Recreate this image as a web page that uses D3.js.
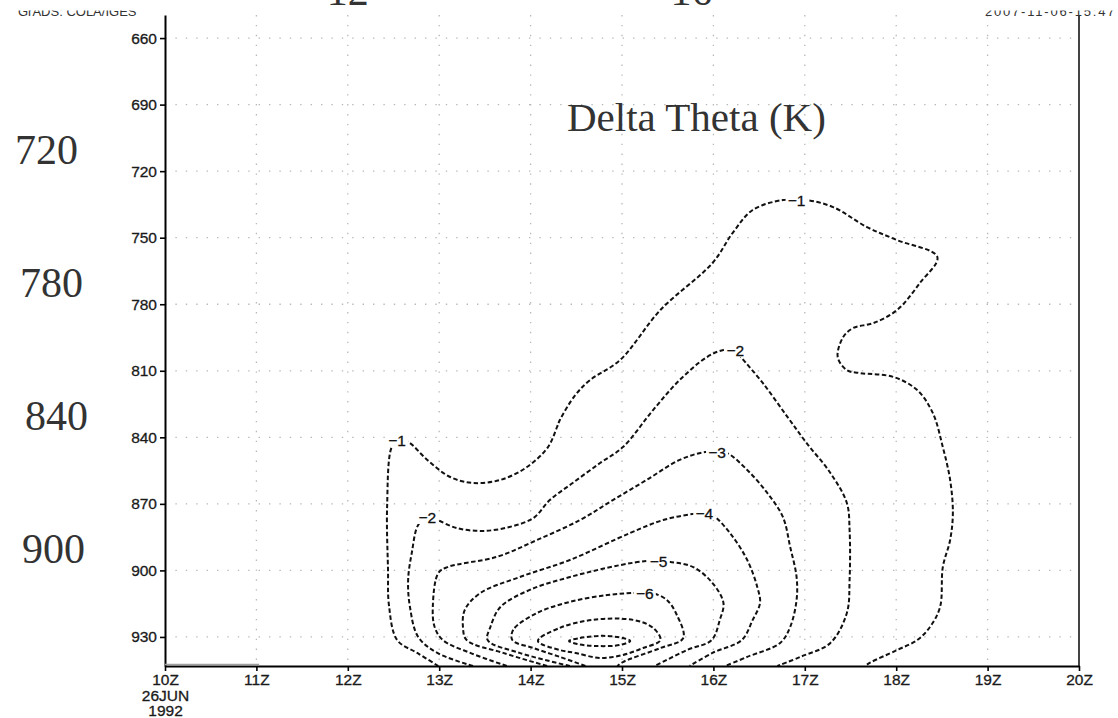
<!DOCTYPE html>
<html lang="en">
<head>
    <meta charset="UTF-8">
    <title>Delta Theta (K)</title>
    <style>
        body { margin: 0; background: #fff; }
    </style>
</head>
<body>

    <div id="chart"></div>

    <script src="https://d3js.org/d3.v7.min.js"></script>
    <script>

    // ---- data: time in hours (Z) of 26 Jun 1992, pressure in hPa ----
    const hours = [10, 11, 12, 13, 14, 15, 16, 17, 18, 19, 20];
    const pTicks = [660, 690, 720, 750, 780, 810, 840, 870, 900, 930];
    const overlayHours = [12, 16];
    const overlayPress = [720, 780, 840, 900];

    // contour lines, [hour, hPa]
    const cMinus1 = [[12.99,943.1],[12.76,937.2],[12.54,931.4],[12.45,915.6],[12.44,899.9],[12.43,871.4],[12.48,844.4],
        [12.55,841.2],[12.66,842.1],[12.87,850.2],[13.12,857.9],[13.37,860.6],[13.67,859.2],[13.96,853.4],[14.19,844.4],
        [14.29,835.3],[14.32,832.2],[14.49,820.9],[14.65,814.2],[14.98,805.1],[15.42,782.6],[15.99,761.4],[16.21,747.9],
        [16.43,737.5],[16.76,733.0],[16.91,733.0],[17.02,733.0],[17.31,736.2],[17.68,745.2],[18.01,751.1],[18.45,758.7],
        [18.26,770.4],[18.01,782.6],[17.75,788.5],[17.53,790.7],[17.42,794.8],[17.36,803.8],[17.46,809.7],[17.60,811.0],
        [17.97,812.8],[18.23,818.7],[18.40,829.0],[18.51,844.4],[18.59,859.2],[18.62,874.1],[18.59,886.3],[18.51,898.5],
        [18.48,916.5],[18.37,925.5],[18.23,931.4],[18.01,935.9],[17.71,941.7],[17.66,943.1]];
    const cMinus2 = [[13.37,943.1],[12.98,937.2],[12.77,930.0],[12.68,916.5],[12.66,904.3],[12.70,892.1],[12.77,879.5],
        [12.87,875.9],[12.98,877.3],[13.19,880.9],[13.48,882.2],[13.77,880.4],[14.03,876.4],[14.21,868.3],[14.46,860.6],
        [14.76,851.6],[15.01,844.4],[15.34,827.7],[15.63,814.2],[15.93,803.8],[16.11,800.6],[16.24,800.6],[16.31,804.2],
        [16.54,815.5],[16.81,830.8],[17.02,842.6],[17.28,856.1],[17.46,869.6],[17.49,881.8],[17.49,904.3],[17.46,919.2],
        [17.28,932.7],[16.95,939.0],[16.70,943.1]];
    const cMinus3 = [[13.74,943.1],[13.34,937.2],[13.04,931.4],[12.95,925.5],[12.93,916.5],[12.99,901.2],[13.09,898.5],
        [13.63,893.9],[14.07,886.3],[14.54,877.3],[14.90,868.3],[15.27,859.2],[15.63,850.2],[15.91,846.6],[16.04,846.6],
        [16.15,847.1],[16.37,854.7],[16.59,865.1],[16.76,875.9],[16.84,889.4],[16.91,903.0],[16.91,913.3],[16.84,925.5],
        [16.73,932.7],[16.37,939.0],[16.13,943.1]];
    const cMinus4 = [[14.18,943.1],[13.70,937.2],[13.30,931.4],[13.26,925.5],[13.28,917.8],[13.45,910.2],[13.88,903.0],
        [14.43,895.3],[15.09,883.1],[15.45,877.3],[15.77,874.6],[15.90,874.1],[15.99,875.0],[16.18,883.1],[16.37,895.3],
        [16.48,907.5],[16.51,914.7],[16.43,922.3],[16.31,931.4],[15.99,937.2],[15.74,943.1]];
    const cMinus5 = [[14.43,943.1],[13.88,937.2],[13.53,931.4],[13.56,925.5],[13.67,916.5],[13.99,908.8],[14.43,903.0],
        [14.98,897.6],[15.27,895.8],[15.40,895.8],[15.53,896.2],[15.78,898.5],[15.99,905.7],[16.11,914.7],[16.07,922.3],
        [15.98,931.4],[15.71,935.9],[15.36,943.1]];
    const cMinus6 = [[14.60,943.1],[14.32,939.0],[14.03,935.0],[13.80,931.4],[13.81,926.8],[14.07,919.2],[14.43,914.2],
        [14.84,911.1],[15.12,910.2],[15.25,910.2],[15.33,910.2],[15.49,913.3],[15.60,920.1],[15.67,930.5],[15.42,935.0],
        [15.01,941.3],[14.95,943.1]];
    const cMinus7 = [[14.08,931.8],[14.32,925.9],[14.68,922.3],[15.12,922.3],[15.34,925.9],[15.42,931.4],[15.23,935.0],
        [15.01,938.1],[14.76,939.5],[14.49,937.2],[14.32,935.9]];
    const cMinus8 = [[14.42,931.8],[14.54,930.5],[14.79,929.5],[15.01,930.5],[15.09,931.8],[14.98,933.6],[14.73,934.1],
        [14.51,933.2]];

    const openContours = [cMinus1, cMinus2, cMinus3, cMinus4, cMinus5, cMinus6];
    const closedContours = [cMinus7, cMinus8];

    // contour labels: [level, hour, hPa]
    const contourLabels = [[-1,12.54,841.2],[-1,16.91,733.0],[-2,12.87,875.9],[-2,16.24,800.6],
        [-3,16.04,846.6],[-4,15.90,874.1],[-5,15.40,895.8],[-6,15.25,910.2]];

    // ---- page set up ----
    const W = 1118, H = 718;
    const margin = {top: 15, right: 39, bottom: 52, left: 165},
        width = W - margin.left - margin.right,
        height = H - margin.top - margin.bottom;

    const root = d3.select("#chart")
        .append("svg").attr("width", W).attr("height", H);

    const svg = root.append("g")
        .attr("transform", `translate(${margin.left}, ${margin.top})`);

    const x = d3.scaleLinear().domain([10, 20]).range([0, width]);
    const y = d3.scaleLinear().domain([649.6, 943.1]).range([0, height]);

    const axisFont = "'Liberation Sans', Arial, sans-serif";
    const serif = "'Liberation Serif', 'Times New Roman', serif";

    // dotted grid
    svg.append("g")
        .selectAll("line")
        .data(pTicks)
        .join("line")
        .attr("x1", 0).attr("x2", width)
        .attr("y1", d => y(d)).attr("y2", d => y(d))
        .attr("stroke", "#b8b8b8").attr("stroke-width", 1.3)
        .attr("stroke-dasharray", "1.4,9");

    svg.append("g")
        .selectAll("line")
        .data(hours.slice(1, -1))
        .join("line")
        .attr("x1", d => x(d)).attr("x2", d => x(d))
        .attr("y1", 0).attr("y2", height)
        .attr("stroke", "#b8b8b8").attr("stroke-width", 1.3)
        .attr("stroke-dasharray", "1.4,8.5");

    // contours
    const line = d3.line()
        .x(d => x(d[0])).y(d => y(d[1]))
        .curve(d3.curveCatmullRom.alpha(0.5));
    const loop = d3.line()
        .x(d => x(d[0])).y(d => y(d[1]))
        .curve(d3.curveCatmullRomClosed.alpha(0.5));

    const cg = svg.append("g")
        .attr("fill", "none")
        .attr("stroke", "#111")
        .attr("stroke-width", 2)
        .attr("stroke-dasharray", "4.5,2.5");

    cg.selectAll(".open").data(openContours).join("path")
        .attr("class", "open").attr("d", line);
    cg.selectAll(".closed").data(closedContours).join("path")
        .attr("class", "closed").attr("d", loop);

    // contour labels with a white box behind them
    const lg = svg.append("g").selectAll("g")
        .data(contourLabels)
        .join("g")
        .attr("transform", d => `translate(${x(d[1])}, ${y(d[2])})`);

    lg.append("rect")
        .attr("x", -11).attr("y", -7).attr("width", 22).attr("height", 14)
        .attr("fill", "#fff");

    lg.append("text")
        .attr("text-anchor", "middle")
        .attr("dy", "0.36em")
        .attr("font-family", axisFont)
        .attr("font-size", 15.5)
        .attr("fill", "#111")
        .attr("stroke", "#111").attr("stroke-width", 0.3)
        .text(d => "\u2212" + Math.abs(d[0]));

    // y axis
    const yAxis = svg.append("g")
        .call(d3.axisLeft(y).tickValues(pTicks).tickSize(5).tickSizeOuter(0).tickPadding(3))
        .attr("font-family", axisFont)
        .attr("font-size", 15.5);
    yAxis.select(".domain").attr("stroke-width", 2);
    yAxis.selectAll(".tick line").attr("stroke-width", 1.6);
    yAxis.selectAll("text").attr("fill", "#1a1a1a")
        .attr("stroke", "#1a1a1a").attr("stroke-width", 0.3);

    // right frame
    svg.append("line")
        .attr("x1", width).attr("x2", width)
        .attr("y1", 0).attr("y2", height)
        .attr("stroke", "#444").attr("stroke-width", 2);

    // x axis
    const xAxis = svg.append("g")
        .attr("transform", `translate(0, ${height})`)
        .call(d3.axisBottom(x).tickValues(hours).tickSize(5).tickSizeOuter(0).tickPadding(3)
            .tickFormat(d => d + "Z"))
        .attr("font-family", axisFont)
        .attr("font-size", 15.5);
    xAxis.select(".domain").attr("stroke-width", 2);
    xAxis.selectAll(".tick line").attr("stroke-width", 1.6);
    xAxis.selectAll("text").attr("fill", "#1a1a1a")
        .attr("stroke", "#1a1a1a").attr("stroke-width", 0.3);

    // date under the first tick, stacked in three lines
    const first = xAxis.select(".tick text");
    const firstLabel = first.text();
    first.text(null).attr("dy", null);
    [firstLabel, "26JUN", "1992"].forEach((s, i) => {
        first.append("tspan")
            .attr("x", 0)
            .attr("dy", i === 0 ? "0.71em" : "1em")
            .text(s);
    });

    // light band on the first hour of the bottom edge
    svg.append("line")
        .attr("x1", x(10)).attr("x2", x(11.03))
        .attr("y1", height - 1.5).attr("y2", height - 1.5)
        .attr("stroke", "#a0a0a0").attr("stroke-width", 1.5);

    // header strings (top half is cut off in the picture)
    root.append("text")
        .attr("x", 18).attr("y", 16)
        .attr("font-family", axisFont).attr("font-size", 13).attr("fill", "#333")
        .text("GrADS: COLA/IGES");
    root.append("text")
        .attr("x", 985).attr("y", 16)
        .attr("font-family", axisFont).attr("font-size", 13).attr("fill", "#333")
        .attr("letter-spacing", 1.8)
        .text("2007-11-06-15:47");
    root.append("rect")
        .attr("x", 0).attr("y", 0).attr("width", W).attr("height", 10.5)
        .attr("fill", "#fff");

    // overlaid serif labels
    root.append("g").selectAll("text")
        .data(overlayHours)
        .join("text")
        .attr("x", d => margin.left + x(d) + (d === 16 ? -22 : 0))
        .attr("y", 5)
        .attr("text-anchor", "middle")
        .attr("font-family", serif).attr("font-size", 42).attr("fill", "#333")
        .text(d => d);

    root.append("g").selectAll("text")
        .data(overlayPress)
        .join("text")
        .attr("x", (d, i) => [15, 20, 25, 22][i])
        .attr("y", d => margin.top + y(d) - 7)
        .attr("font-family", serif).attr("font-size", 42).attr("fill", "#333")
        .text(d => d);

    root.append("text")
        .attr("x", 567).attr("y", 131)
        .attr("font-family", serif).attr("font-size", 41).attr("fill", "#333")
        .text("Delta Theta (K)");

    </script>

</body>
</html>
